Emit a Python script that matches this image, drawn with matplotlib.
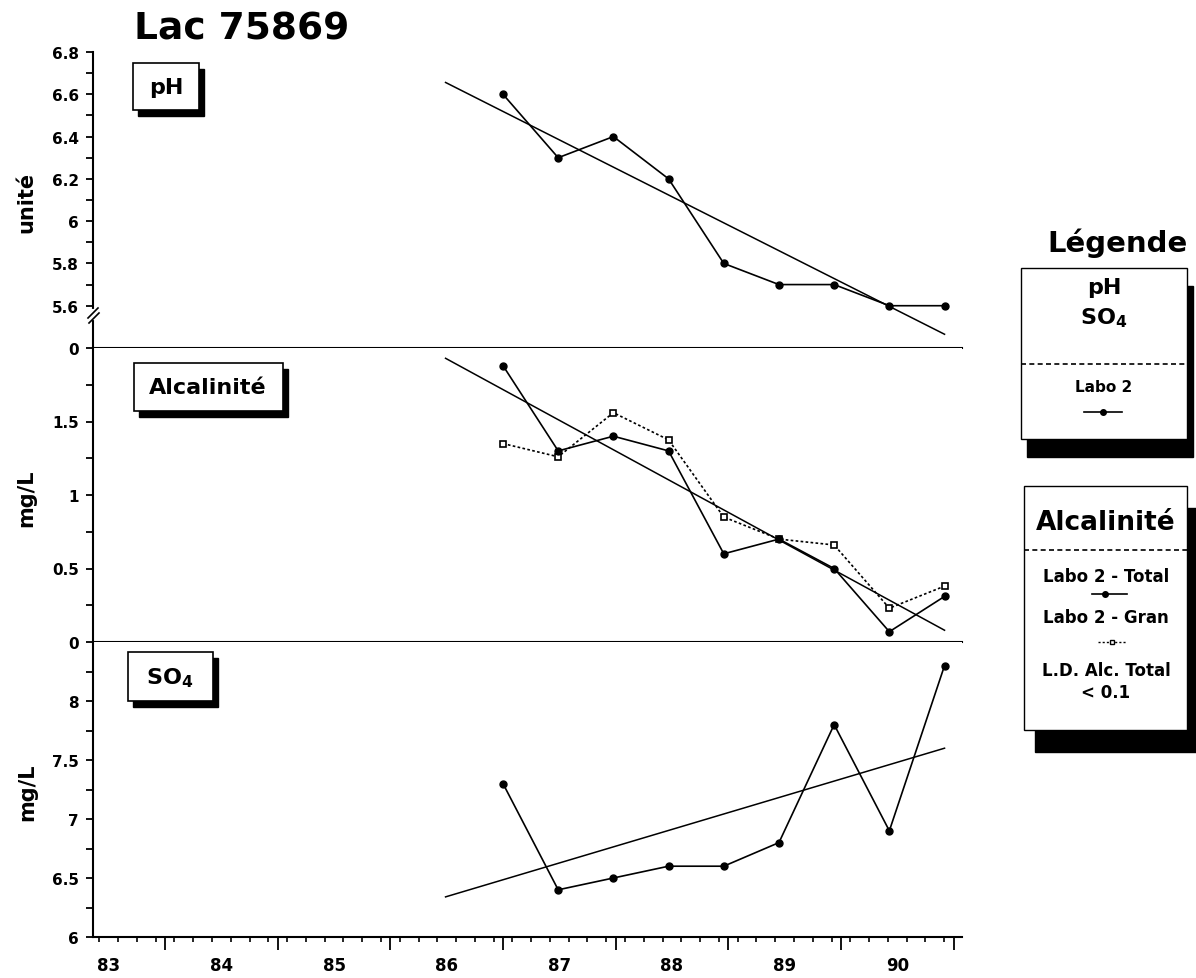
import matplotlib
matplotlib.use('Agg')
import matplotlib.pyplot as plt
from matplotlib.patches import Rectangle
from matplotlib.lines import Line2D

# Dates des prélèvements (années décimales)
dates = [1987.0, 1987.49, 1987.98, 1988.47, 1988.96, 1989.45, 1989.94, 1990.43, 1990.92]

ph = [6.6, 6.3, 6.4, 6.2, 5.8, 5.7, 5.7, 5.6, 5.6]
alc_total = [1.88, 1.30, 1.40, 1.30, 0.60, 0.70, 0.50, 0.07, 0.31]
alc_gran = [1.35, 1.26, 1.56, 1.375, 0.85, 0.70, 0.66, 0.23, 0.38]
so4 = [7.3, 6.4, 6.5, 6.6, 6.6, 6.8, 7.8, 6.9, 8.3]

# Droites de tendance : valeurs au début et à la fin
trend_x = [1986.49, 1990.92]
ph_trend = [6.656, 5.465]
alc_trend = [1.93, 0.08]
so4_trend = [6.34, 7.60]

years = [83, 84, 85, 86, 87, 88, 89, 90]

ph_ticks = [5.4, 5.6, 5.8, 6.0, 6.2, 6.4, 6.6, 6.8]
ph_labels = ['0', '5.6', '5.8', '6', '6.2', '6.4', '6.6', '6.8']
alc_ticks = [0, 0.5, 1, 1.5]
alc_labels = ['0', '0.5', '1', '1.5']
so4_ticks = [6, 6.5, 7, 7.5, 8]
so4_labels = ['6', '6.5', '7', '7.5', '8']

plt.rcParams['font.family'] = 'DejaVu Sans'
plt.rcParams['font.weight'] = 'bold'
plt.rcParams['mathtext.default'] = 'bf'

W, H = 1196, 979
fig = plt.figure(figsize=(W / 100, H / 100), dpi=100)


def fx(x):
    return x / W


def fy(y):
    return 1 - y / H


left = fx(93)
width = fx(962) - left
ax_ph = fig.add_axes([left, fy(349), width, fy(53) - fy(349)])
ax_alc = fig.add_axes([left, fy(643), width, fy(349) - fy(643)], sharex=ax_ph)
ax_so4 = fig.add_axes([left, fy(938), width, fy(643) - fy(938)], sharex=ax_ph)

for ax in (ax_ph, ax_alc, ax_so4):
    ax.spines['top'].set_visible(False)
    ax.spines['right'].set_visible(False)
    ax.spines['left'].set_linewidth(1.5)
    ax.spines['bottom'].set_linewidth(1.5)
    ax.tick_params(axis='y', which='both', direction='out', length=5, width=1.3,
                   labelsize=11, pad=5)

# Axe des x commun
ax_so4.set_xlim(1983.36, 1991.075)
ax_so4.set_xticks(range(1984, 1992))
minor_x = [y + k / 12 for y in range(1983, 1992) for k in (1, 3, 5, 7, 9, 11)]
minor_x = [m for m in minor_x if 1983.36 <= m <= 1991.075]
ax_so4.set_xticks(minor_x, minor=True)
ax_so4.tick_params(axis='x', which='major', direction='out', length=9.5, width=1.3,
                   labelbottom=False)
ax_so4.tick_params(axis='x', which='minor', direction='out', length=3.5, width=1.2)
for ax in (ax_ph, ax_alc):
    ax.tick_params(axis='x', which='both', bottom=False, labelbottom=False)

for yr in years:
    ax_so4.annotate(str(yr), xy=(1900 + yr + 0.5, 0), xycoords=('data', 'axes fraction'),
                    xytext=(0, -20), textcoords='offset points',
                    ha='center', va='center', fontsize=12)

line_kw = dict(color='k', lw=1.2)

# pH
ax_ph.set_ylim(5.4, 6.8)
ax_ph.set_yticks(ph_ticks, ph_labels)
ax_ph.set_yticks([5.7, 5.9, 6.1, 6.3, 6.5, 6.7], minor=True)
ax_ph.plot(dates, ph, marker='o', ms=5, **line_kw)
ax_ph.plot(trend_x, ph_trend, color='k', lw=1.1)

# Alcalinité
ax_alc.set_ylim(0, 2.0)
ax_alc.set_yticks(alc_ticks, alc_labels)
ax_alc.set_yticks([0.25, 0.75, 1.25, 1.75], minor=True)
ax_alc.plot(dates, alc_gran, color='k', lw=1.2, linestyle=(0, (1.6, 1.4)),
            marker='s', ms=4.5, mfc='white', mec='k', mew=1.2)
ax_alc.plot(dates, alc_total, marker='o', ms=5, **line_kw)
ax_alc.plot(trend_x, alc_trend, color='k', lw=1.1)

# Sulfates
ax_so4.set_ylim(6, 8.5)
ax_so4.set_yticks(so4_ticks, so4_labels)
ax_so4.set_yticks([6.25, 6.75, 7.25, 7.75, 8.25], minor=True)
ax_so4.plot(dates, so4, marker='o', ms=5, **line_kw)
ax_so4.plot(trend_x, so4_trend, color='k', lw=1.1)

# Coupure de l'axe du pH
fig.add_artist(Line2D([fx(93), fx(93)], [fy(312), fy(319)], color='white', lw=3))
fig.add_artist(Line2D([fx(88), fx(98)], [fy(319), fy(309)], color='k', lw=1.2))
fig.add_artist(Line2D([fx(89), fx(99)], [fy(324), fy(314)], color='k', lw=1.2))

# Titres des axes
fig.text(fx(26), fy(202), 'unité', rotation=90, ha='center', va='center', fontsize=15)
fig.text(fx(26), fy(498), 'mg/L', rotation=90, ha='center', va='center', fontsize=15)
fig.text(fx(27), fy(792), 'mg/L', rotation=90, ha='center', va='center', fontsize=15)

fig.text(fx(242), fy(30), 'Lac 75869', ha='center', va='center', fontsize=27)


def boite(x0, y0, x1, y1, dx, dy, lw=1.2):
    fig.add_artist(Rectangle((fx(x0 + dx), fy(y1 + dy)), (x1 - x0) / W, (y1 - y0) / H,
                             transform=fig.transFigure, facecolor='k', edgecolor='k'))
    fig.add_artist(Rectangle((fx(x0), fy(y1)), (x1 - x0) / W, (y1 - y0) / H,
                             transform=fig.transFigure, facecolor='white',
                             edgecolor='k', lw=lw))


# Étiquettes des panneaux
boite(133, 64, 199, 111, 5, 6)
fig.text(fx(166), fy(88), 'pH', ha='center', va='center', fontsize=16)
boite(134, 364, 283, 412, 5, 6)
fig.text(fx(208), fy(388), 'Alcalinité', ha='center', va='center', fontsize=16)
boite(128, 653, 213, 702, 5, 6)
fig.text(fx(170), fy(678), r'SO$_4$', ha='center', va='center', fontsize=16)

# Légende
fig.text(fx(1117), fy(243), 'Légende', ha='center', va='center', fontsize=21)

boite(1021, 269, 1187, 440, 6, 18, lw=1)
fig.text(fx(1104), fy(288), 'pH', ha='center', va='center', fontsize=16)
fig.text(fx(1104), fy(318), r'SO$_4$', ha='center', va='center', fontsize=16)
fig.add_artist(Line2D([fx(1021), fx(1187)], [fy(365)] * 2, color='k', lw=1.2,
                      linestyle=(0, (3, 2))))
fig.text(fx(1104), fy(388), 'Labo 2', ha='center', va='center', fontsize=11)
fig.add_artist(Line2D([fx(1084), fx(1103), fx(1122)], [fy(413)] * 3, color='k', lw=1.2,
                      marker='o', ms=4, markevery=[1]))

boite(1024, 487, 1187, 731, 11, 22, lw=1)
fig.text(fx(1106), fy(523), 'Alcalinité', ha='center', va='center', fontsize=19)
fig.add_artist(Line2D([fx(1024), fx(1187)], [fy(551)] * 2, color='k', lw=1.2,
                      linestyle=(0, (3, 2))))
fig.text(fx(1106), fy(577), 'Labo 2 - Total', ha='center', va='center', fontsize=12)
fig.add_artist(Line2D([fx(1092), fx(1105), fx(1127)], [fy(595)] * 3, color='k', lw=1.2,
                      marker='o', ms=4, markevery=[1]))
fig.text(fx(1106), fy(618), 'Labo 2 - Gran', ha='center', va='center', fontsize=12)
fig.add_artist(Line2D([fx(1098), fx(1112), fx(1127)], [fy(643)] * 3, color='k', lw=1,
                      linestyle=(0, (1.5, 1.5)), marker='s', ms=3.5, mfc='white',
                      mec='k', mew=1, markevery=[1]))
fig.text(fx(1106), fy(671), 'L.D. Alc. Total', ha='center', va='center', fontsize=12)
fig.text(fx(1106), fy(693), '< 0.1', ha='center', va='center', fontsize=12)

fig.savefig('out.png', dpi=100)
